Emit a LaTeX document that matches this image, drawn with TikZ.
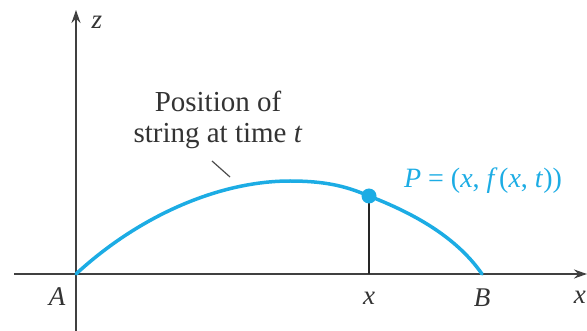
\documentclass[tikz,border=0pt]{standalone}
\usepackage{fontspec}
\setmainfont{Liberation Serif}
\usetikzlibrary{arrows.meta}
\definecolor{strc}{RGB}{28,172,228}
\begin{document}
\begin{tikzpicture}[x=1pt,y=-1pt,
  axis/.style={draw=black!75, line width=2pt, -{Stealth[length=13pt,width=9pt]}},
  lbl/.style={font=\fontsize{27}{30}\selectfont\itshape, text=black!80, inner sep=0pt},
  txt/.style={font=\fontsize{29}{31}\selectfont, text=black!80, align=center, inner sep=0pt},
  stringline/.style={draw=strc, line width=3.5pt, line cap=round},
  leader/.style={draw=black!70, line width=1.2pt}]
\useasboundingbox (0,0) rectangle (587,331);
\coordinate (A) at (76,274);
\coordinate (B) at (482,274);
\coordinate (P) at (369,196);
\coordinate (X) at (369,274);
\coordinate (zb) at (76,331);
\coordinate (zt) at (76,10);
\coordinate (xl) at (14,274);
\coordinate (xr) at (587,274);
\coordinate (l1) at (212,161);
\coordinate (l2) at (230,177);
% axes
\draw[axis] (xl) -- (xr);
\draw[axis] (zb) -- (zt);
% string
\draw[stringline] (A) .. controls (140,215) and (220,181) .. (290,181)
  .. controls (330,181) and (350,188) .. (P)
  .. controls (410,212) and (455,235) .. (B);
% vertical line and point
\draw[draw=black!85, line width=1.6pt] (P) -- (X);
\node[circle, fill=strc, minimum size=15pt, inner sep=0pt] (Pd) at (P) {};
% labels
\node[lbl] (zlab) at (97,22) {z};
\node[lbl] (Alab) at (57,297) {A};
\node[lbl] (xlab) at (369,298) {x};
\node[lbl] (Blab) at (482,298) {B};
\node[lbl, anchor=east] (xaxlab) at (586,297) {x};
\node[txt] (pos) at (218,120) {Position of\\string at time \textit{t}};
\draw[leader] (l1) -- (l2);
\node[font=\fontsize{28}{32}\selectfont, text=strc, inner sep=0pt] (Plab) at (483,181)
  {\textit{P} = (\textit{x}, \textit{f\,}(\textit{x}, \textit{t}))};
\end{tikzpicture}
\end{document}
